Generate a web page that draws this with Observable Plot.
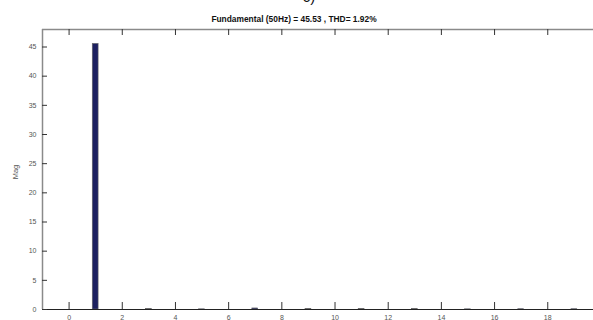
<!DOCTYPE html>
<html><head><meta charset="utf-8">
<script src="https://cdn.jsdelivr.net/npm/d3@7"></script>
<script src="https://cdn.jsdelivr.net/npm/@observablehq/plot@0.6"></script>
<style>
body{margin:0;background:#fff;overflow:hidden}
#wrap{width:593px;height:320px;position:relative}
svg{font-family:"Liberation Sans",Arial,sans-serif}
</style>
</head><body><div id="wrap"></div>
<script>
// Harmonic order and magnitude
const harmonics  = [0, 1, 2, 3, 4, 5, 6, 7, 8, 9, 10, 11, 12, 13, 14, 15, 16, 17, 18, 19];
const magnitudes = [0, 45.53, 0, 0.06, 0, 0.03, 0, 0.18, 0, 0.06, 0, 0.06, 0, 0.06, 0, 0.03, 0, 0.05, 0, 0.05];
const xTicks = [0, 2, 4, 6, 8, 10, 12, 14, 16, 18];
const yTicks = [0, 5, 10, 15, 20, 25, 30, 35, 40, 45];
const titleText = "Fundamental (50Hz) = 45.53 , THD= 1.92%";
const panelText = "c)";
const yLabel = "Mag";

const data = harmonics.map((h, i) => ({h, m: magnitudes[i]}));

const W = 593, H = 320, mL = 42, mR = 0, mT = 29, mB = 11;
const plotH = H - mT - mB, plotW = W - mL - mR;

const chart = Plot.plot({
  width: W, height: H,
  marginLeft: mL, marginRight: mR, marginTop: mT, marginBottom: mB,
  style: {fontFamily: "Liberation Sans, Arial, sans-serif", background: "#fff", overflow: "visible"},
  x: {domain: [-1, 19.72]},
  y: {domain: [0, 48]},
  marks: [
    Plot.rectY(data, {x1: d => d.h - 0.11, x2: d => d.h + 0.11, y: "m", fill: "#1c2060", stroke: "#666", strokeWidth: 0.6}),
    // frame lines
    Plot.ruleY([48], {stroke: "#8a8a8a", strokeWidth: 1.5}),
    Plot.ruleX([-1], {stroke: "#8a8a8a", strokeWidth: 1.5}),
    Plot.ruleY([0], {stroke: "#222", strokeWidth: 1.2}),
    // inward ticks
    Plot.tickX(xTicks, {x: d => d, insetTop: plotH - 7, stroke: "#333", strokeWidth: 1}),
    Plot.tickX(xTicks, {x: d => d, insetBottom: plotH - 6, stroke: "#333", strokeWidth: 1}),
    Plot.tickY(yTicks, {y: d => d, insetRight: plotW - 5, stroke: "#333", strokeWidth: 1}),
    // labels
    Plot.axisX(xTicks, {tickSize: 0, tickPadding: 6, fontSize: 7, fill: "#555", label: null}),
    Plot.axisY(yTicks, {tickSize: 0, tickPadding: 6, fontSize: 7, fill: "#555", label: null}),
  ]
});

const svg = d3.select(chart);
svg.append("text").attr("x", 294).attr("y", 21.5).attr("text-anchor", "middle")
  .attr("font-size", 8.4).attr("font-weight", "bold").attr("fill", "#111").text(titleText);
svg.append("text").attr("x", 309).attr("y", 1.5).attr("text-anchor", "middle")
  .attr("font-size", 15).attr("fill", "#111").text(panelText);
svg.append("text").attr("transform", "translate(18,172) rotate(-90)").attr("text-anchor", "middle")
  .attr("font-size", 7.5).attr("fill", "#555").text(yLabel);

document.getElementById("wrap").appendChild(chart);
</script>
</body></html>
